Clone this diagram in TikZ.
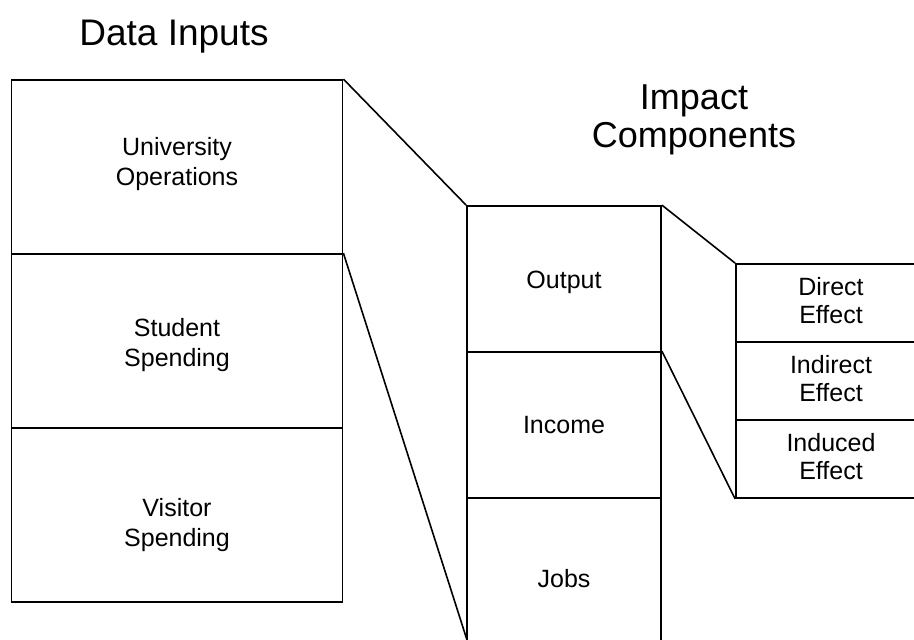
\documentclass[tikz,border=0pt]{standalone}
\usepackage{fontspec}
\setmainfont{Liberation Sans}
\begin{document}
\begin{tikzpicture}[x=1pt,y=-1pt,
  cell/.style={draw=black,line width=1.8pt,rectangle,inner sep=0pt},
  lab/.style={align=center,inner sep=0pt,font=\fontsize{25}{29.5}\selectfont},
  labs/.style={align=center,inner sep=0pt,font=\fontsize{25}{27.5}\selectfont},
  title/.style={align=center,inner sep=0pt},
  conn/.style={draw=black,line width=1.6pt}]
\useasboundingbox (0,0) rectangle (914,640);
\clip (0,0) rectangle (914,640);
% titles
\node[title,anchor=base,font=\fontsize{37}{40}\selectfont] (t1) at (174,45) {Data Inputs};
\node[title,font=\fontsize{36}{38.5}\selectfont] (t2) at (694,120) {Impact\\Components};
% left column
\node[cell,minimum width=331,minimum height=174,label={[lab,yshift=3pt]center:{University\\Operations}}] (uo) at (177,167) {};
\node[cell,minimum width=331,minimum height=174,label={[lab,yshift=-4pt]center:{Student\\Spending}}] (ss) at (177,341) {};
\node[cell,minimum width=331,minimum height=174,label={[lab,yshift=-10pt]center:{Visitor\\Spending}}] (vs) at (177,515) {};
% middle column
\node[cell,minimum width=194,minimum height=146,label={[lab,yshift=-3pt]center:{Output}}] (out) at (564,279) {};
\node[cell,minimum width=194,minimum height=146,label={[lab]center:{Income}}] (inc) at (564,425) {};
\node[cell,minimum width=194,minimum height=162,label={[lab]center:{Jobs}}] (jobs) at (564,579) {};
% right column
\node[cell,minimum width=190,minimum height=78,label={[labs,yshift=2.5pt]center:{Direct\\Effect}}] (de) at (831,303) {};
\node[cell,minimum width=190,minimum height=78,label={[labs,yshift=2.5pt]center:{Indirect\\Effect}}] (ie) at (831,381) {};
\node[cell,minimum width=190,minimum height=78,label={[labs,yshift=2.5pt]center:{Induced\\Effect}}] (ne) at (831,459) {};
\coordinate (jbl) at (467,640);
% connectors
\draw[conn] (uo.north east) -- (out.north west);
\draw[conn] (ss.north east) -- (jbl);
\draw[conn] (out.north east) -- (de.north west);
\draw[conn] (inc.north east) -- (ne.south west);
\end{tikzpicture}
\end{document}
